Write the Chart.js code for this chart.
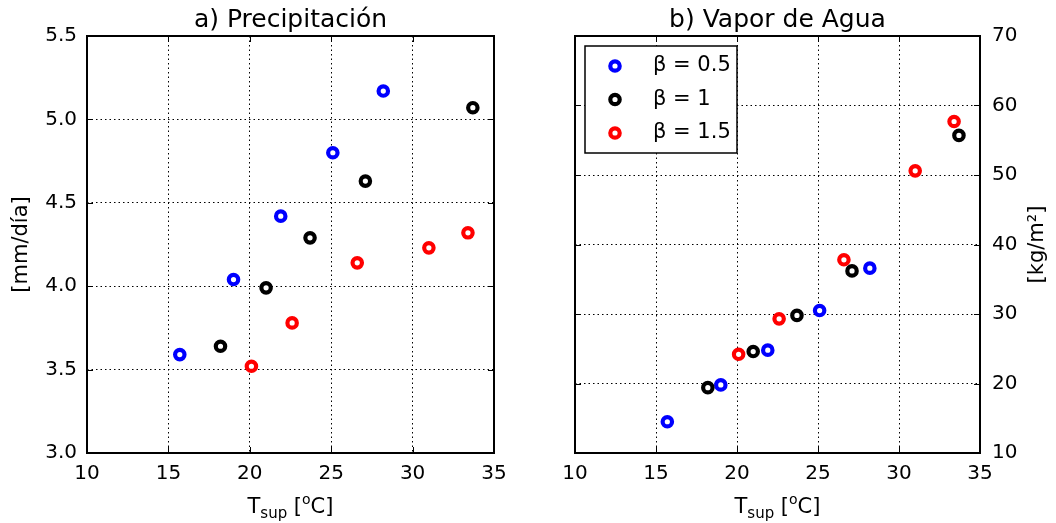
<!DOCTYPE html>
<html>
<head>
<meta charset="utf-8">
<script src="https://cdn.jsdelivr.net/npm/chart.js@4.4.1/dist/chart.umd.min.js"></script>
<style>
  html, body { margin: 0; padding: 0; background: #fff; }
  .panel { position: absolute; top: 0; width: 528px; height: 523px; }
  #panelA { left: 0; }
  #panelB { left: 528px; }
</style>
</head>
<body>
<div class="panel" id="panelA"><canvas id="precipChart"></canvas></div>
<div class="panel" id="panelB"><canvas id="vaporChart"></canvas></div>
<script>
// surface temperature for each beta run
const tsupB05 = [15.7, 19.0, 21.9, 25.1, 28.2];
const tsupB1 = [18.2, 21.0, 23.7, 27.1, 33.7];
const tsupB15 = [20.1, 22.6, 26.6, 31.0, 33.4];

// precipitation [mm/dia]
const precipB05 = [3.59, 4.04, 4.42, 4.80, 5.17];
const precipB1 = [3.64, 3.99, 4.29, 4.63, 5.07];
const precipB15 = [3.52, 3.78, 4.14, 4.23, 4.32];

// water vapour [kg/m2]
const vaporB05 = [14.5, 19.8, 24.8, 30.5, 36.6];
const vaporB1 = [19.4, 24.6, 29.8, 36.2, 55.7];
const vaporB15 = [24.2, 29.3, 37.8, 50.6, 57.7];

const seriesLabels = ["β = 0.5", "β = 1", "β = 1.5"];
const seriesColors = ["#0000ff", "#000000", "#ff0000"];

const xTicks = [10, 15, 20, 25, 30, 35];
const precipTicks = [3.0, 3.5, 4.0, 4.5, 5.0, 5.5];
const vaporTicks = [10, 20, 30, 40, 50, 60, 70];

const FONT = "'DejaVu Sans', sans-serif";

const toPoints = (xs, ys) => xs.map((x, i) => ({ x: x, y: ys[i] }));

const makeDatasets = (ys) =>
  [tsupB05, tsupB1, tsupB15].map((xs, i) => ({
    label: seriesLabels[i],
    data: toPoints(xs, ys[i]),
    borderColor: seriesColors[i],
    backgroundColor: "#ffffff",
    pointRadius: 4.7,
    borderWidth: 4.2,
    pointStyle: "circle",
    order: 3 - i,
  }));

// frame, inward ticks and all the extra text
const framePlugin = {
  id: "frame",
  afterDraw(chart, args, opts) {
    const { ctx, chartArea: a } = chart;
    const xs = chart.scales.x;
    const ys = chart.scales.y;
    ctx.save();
    ctx.strokeStyle = "#000";
    ctx.lineWidth = 1;
    ctx.setLineDash([]);
    ctx.beginPath();
    xs.ticks.forEach((t) => {
      const px = Math.round(xs.getPixelForValue(t.value)) + 0.5;
      ctx.moveTo(px, a.bottom); ctx.lineTo(px, a.bottom - 6);
      ctx.moveTo(px, a.top); ctx.lineTo(px, a.top + 6);
    });
    ys.ticks.forEach((t) => {
      const py = Math.round(ys.getPixelForValue(t.value)) + 0.5;
      ctx.moveTo(a.left, py); ctx.lineTo(a.left + 6, py);
      ctx.moveTo(a.right, py); ctx.lineTo(a.right - 6, py);
    });
    ctx.stroke();
    ctx.lineWidth = 2;
    ctx.strokeRect(a.left, a.top, a.right - a.left, a.bottom - a.top);

    // title
    const cx = (a.left + a.right) / 2;
    ctx.fillStyle = "#000";
    ctx.textAlign = "center";
    ctx.textBaseline = "alphabetic";
    ctx.font = "25px " + FONT;
    ctx.fillText(opts.title, cx, 27);

    // x axis label: T_sup [°C]
    const base = 513;
    const parts = [
      { t: "T", size: 21, dy: 0 },
      { t: "sup", size: 15, dy: 5 },
      { t: " [", size: 21, dy: 0 },
      { t: "o", size: 14, dy: -9 },
      { t: "C]", size: 21, dy: 0 },
    ];
    let total = 0;
    parts.forEach((p) => {
      ctx.font = p.size + "px " + FONT;
      p.w = ctx.measureText(p.t).width;
      total += p.w;
    });
    let x = cx - total / 2;
    ctx.textAlign = "left";
    parts.forEach((p) => {
      ctx.font = p.size + "px " + FONT;
      ctx.fillText(p.t, x, base + p.dy);
      x += p.w;
    });

    // y axis label, read bottom to top on both sides
    ctx.save();
    ctx.translate(opts.yTitleX, (a.top + a.bottom) / 2);
    ctx.rotate(-Math.PI / 2);
    ctx.textAlign = "center";
    ctx.textBaseline = "middle";
    ctx.font = "21px " + FONT;
    ctx.fillText(opts.yTitle, 0, 0);
    ctx.restore();

    if (opts.legend) {
      const lx = a.left + 10;
      const ly = a.top + 10;
      ctx.fillStyle = "#fff";
      ctx.fillRect(lx, ly, 152, 107);
      ctx.lineWidth = 1.5;
      ctx.strokeRect(lx, ly, 152, 107);
      chart.data.datasets.forEach((ds, i) => {
        const ry = ly + 20 + i * 33.5;
        ctx.beginPath();
        ctx.arc(lx + 30, ry, 4.7, 0, Math.PI * 2);
        ctx.fillStyle = "#fff";
        ctx.fill();
        ctx.lineWidth = 4.2;
        ctx.strokeStyle = ds.borderColor;
        ctx.stroke();
        ctx.fillStyle = "#000";
        ctx.font = "21px " + FONT;
        ctx.textAlign = "left";
        ctx.textBaseline = "middle";
        ctx.fillText(ds.label, lx + 68, ry);
      });
    }
    ctx.restore();
  },
};

const fixedTicks = (arr) => (scale) => {
  scale.ticks = arr.map((v) => ({ value: v }));
};

function makeChart(canvasId, ys, yTicks, yMin, yMax, yDecimals, cfg) {
  return new Chart(document.getElementById(canvasId), {
    type: "scatter",
    data: { datasets: makeDatasets(ys) },
    plugins: [framePlugin],
    options: {
      responsive: true,
      maintainAspectRatio: false,
      animation: false,
      events: [],
      layout: { padding: cfg.padding },
      plugins: {
        legend: { display: false },
        title: { display: false },
        tooltip: { enabled: false },
        frame: { title: cfg.title, yTitle: cfg.yTitle, yTitleX: cfg.yTitleX, legend: cfg.legend },
      },
      scales: {
        x: {
          type: "linear",
          min: 10,
          max: 35,
          afterBuildTicks: fixedTicks(xTicks),
          afterFit: (s) => { s.height = 70; },
          grid: { color: "#000", lineWidth: 1, drawTicks: false },
          border: { display: false, dash: [1.5, 3] },
          ticks: { color: "#000", padding: 9, font: { family: FONT, size: 20 }, maxRotation: 0, autoSkip: false },
        },
        y: {
          type: "linear",
          position: cfg.yPosition,
          min: yMin,
          max: yMax,
          afterBuildTicks: fixedTicks(yTicks),
          afterFit: (s) => { s.width = cfg.yWidth; },
          grid: { color: "#000", lineWidth: 1, drawTicks: false },
          border: { display: false, dash: [1.5, 3] },
          ticks: {
            color: "#000",
            padding: cfg.yPad,
            font: { family: FONT, size: 20 },
            autoSkip: false,
            callback: (v) => Number(v).toFixed(yDecimals),
          },
        },
      },
    },
  });
}

makeChart("precipChart", [precipB05, precipB1, precipB15], precipTicks, 3.0, 5.5, 1, {
  title: "a) Precipitación",
  yTitle: "[mm/día]",
  yTitleX: 22,
  yPosition: "left",
  yWidth: 87,
  yPad: 10,
  padding: { top: 36, left: 0, right: 34, bottom: 0 },
  legend: false,
});

makeChart("vaporChart", [vaporB05, vaporB1, vaporB15], vaporTicks, 10, 70, 0, {
  title: "b) Vapor de Agua",
  yTitle: "[kg/m²]",
  yTitleX: 510,
  yPosition: "right",
  yWidth: 76,
  yPad: 12,
  padding: { top: 36, left: 47, right: 0, bottom: 0 },
  legend: true,
});
</script>
</body>
</html>
